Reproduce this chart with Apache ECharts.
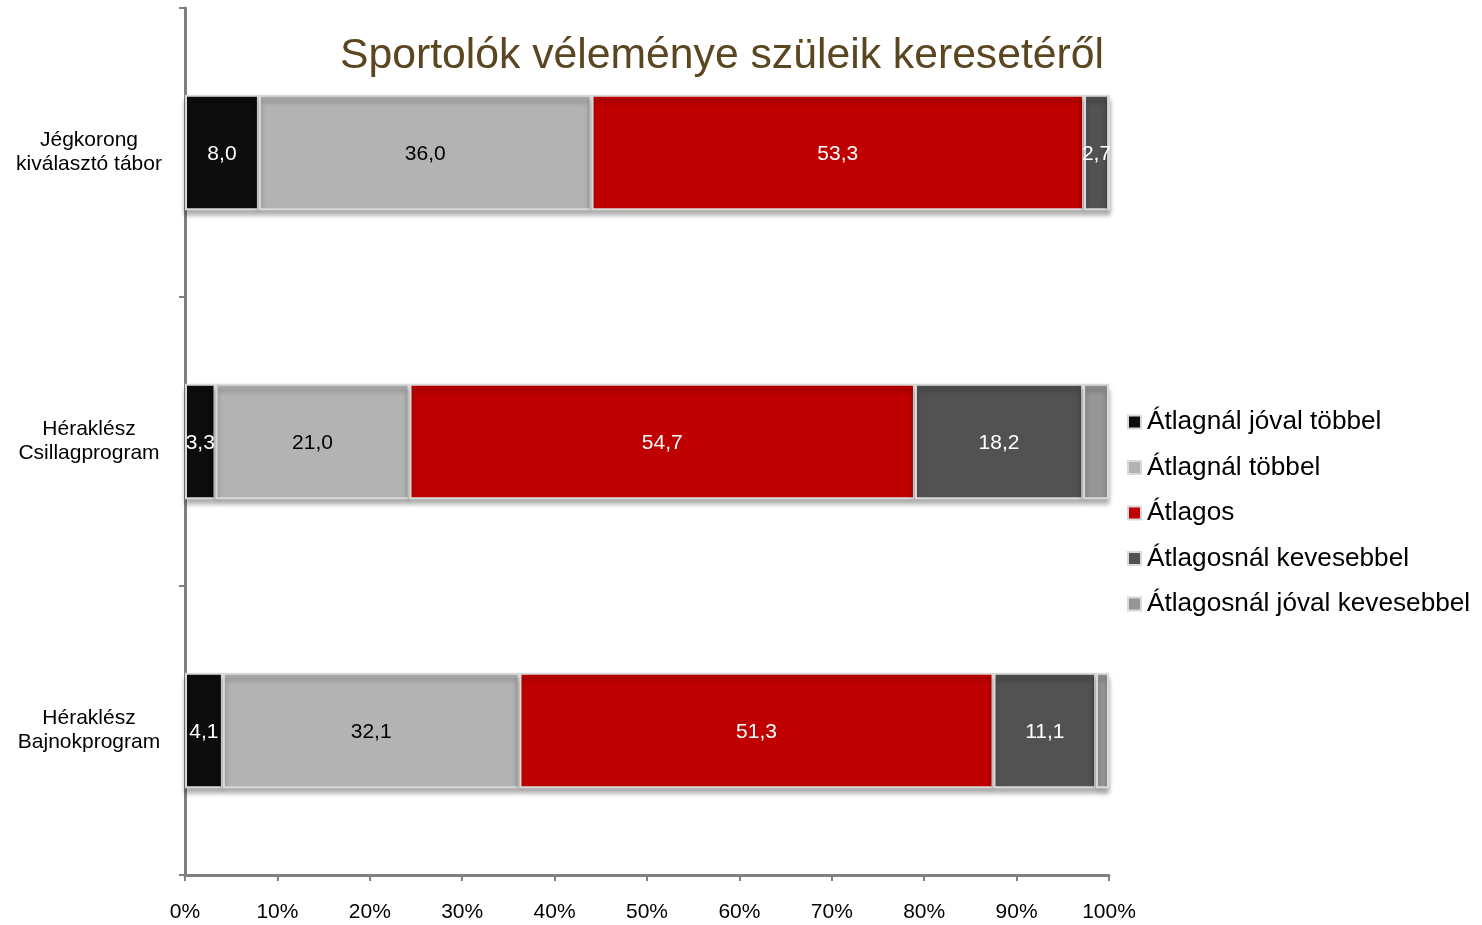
<!DOCTYPE html>
<html>
<head>
<meta charset="utf-8">
<script src="https://cdn.jsdelivr.net/npm/echarts@6/dist/echarts.min.js"></script>
<style>
  html, body { margin: 0; padding: 0; background: #fff; }
  #chart { width: 1482px; height: 925px; }
</style>
</head>
<body>
<div id="chart"></div>
<script>
// categories bottom -> top (echarts category y axis starts at the bottom)
var categories = ['Héraklész\nBajnokprogram', 'Héraklész\nCsillagprogram', 'Jégkorong\nkiválasztó tábor'];
var seriesNames = ['Átlagnál jóval többel', 'Átlagnál többel', 'Átlagos', 'Átlagosnál kevesebbel', 'Átlagosnál jóval kevesebbel'];
var jovalTobbel = [4.1, 3.3, 8.0];
var tobbel = [32.1, 21.0, 36.0];
var atlagos = [51.3, 54.7, 53.3];
var kevesebbel = [11.1, 18.2, 2.7];
var jovalKevesebbel = [1.4, 2.8, 0];
var xTicks = [0, 10, 20, 30, 40, 50, 60, 70, 80, 90, 100];

var colors = ['#0d0d0d', '#b3b3b3', '#c00000', '#525252', '#969696'];
var labelColors = ['#fff', '#000', '#fff', '#fff', null];
var allData = [jovalTobbel, tobbel, atlagos, kevesebbel, jovalKevesebbel];

var fontFam = 'Arial, "Liberation Sans", sans-serif';

var series = allData.map(function (d, i) {
  return {
    name: seriesNames[i],
    type: 'bar',
    stack: 'total',
    barWidth: '40%',
    data: d,
    itemStyle: {
      color: colors[i],
      borderColor: '#d9d9d9',
      borderWidth: 2,
      shadowColor: 'rgba(0,0,0,0.35)',
      shadowBlur: 5,
      shadowOffsetY: 5
    },
    label: {
      show: labelColors[i] !== null,
      position: 'inside',
      offset: [0, 2],
      color: labelColors[i] || '#000',
      fontSize: 21,
      fontFamily: fontFam,
      formatter: function (p) {
        return p.value > 0 ? p.value.toFixed(1).replace('.', ',') : '';
      }
    }
  };
});

var myChart = echarts.init(document.getElementById('chart'));
myChart.setOption({
  animation: false,
  title: {
    text: 'Sportolók véleménye szüleik keresetéről',
    left: 335,
    top: 30,
    textStyle: { color: '#5a4620', fontSize: 42.7, fontWeight: 'normal', fontFamily: fontFam }
  },
  legend: {
    orient: 'vertical',
    left: 1122,
    top: 404,
    itemGap: 19.5,
    itemWidth: 13,
    itemHeight: 13,
    icon: 'rect',
    data: seriesNames,
    textStyle: { fontSize: 26.2, color: '#000', fontFamily: fontFam, padding: [0, 0, 0, 1] }
  },
  grid: { left: 185, right: 373, top: 8, bottom: 50 },
  xAxis: {
    type: 'value',
    min: 0,
    max: 100,
    interval: 10,
    axisLine: { show: true, lineStyle: { color: '#808080', width: 3 } },
    axisTick: { show: true, length: 6, lineStyle: { color: '#808080', width: 2 } },
    splitLine: { show: false },
    axisLabel: {
      margin: 27,
      fontSize: 21,
      color: '#000',
      fontFamily: fontFam,
      formatter: function (v) { return xTicks.indexOf(v) >= 0 ? v + '%' : ''; }
    }
  },
  yAxis: {
    type: 'category',
    data: categories,
    axisLine: { show: true, lineStyle: { color: '#808080', width: 3 } },
    axisTick: { show: true, length: 6, lineStyle: { color: '#808080', width: 2 } },
    axisLabel: {
      margin: 96,
      align: 'center',
      fontSize: 21,
      lineHeight: 24,
      padding: [4, 0, 0, 0],
      color: '#000',
      fontFamily: fontFam
    }
  },
  series: series
});
</script>
</body>
</html>
